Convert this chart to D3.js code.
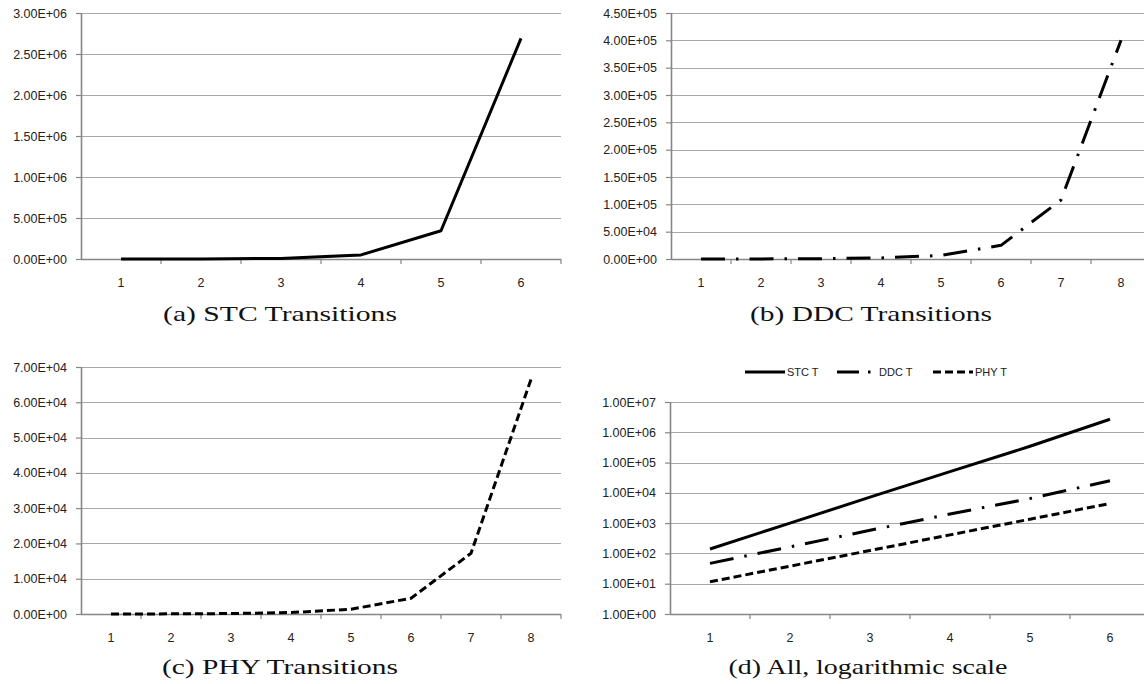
<!DOCTYPE html>
<html>
<head>
<meta charset="utf-8">
<script src="https://cdn.jsdelivr.net/npm/d3@7"></script>
<style>
    html, body { margin: 0; padding: 0; background: #fff; }
    svg { display: block; }
</style>
</head>
<body>
<script>
'use strict';

// values
var stcCategories = [1, 2, 3, 4, 5, 6];
var stcValues = [140, 1000, 7200, 50000, 345000, 2690000];

var ddcCategories = [1, 2, 3, 4, 5, 6, 7, 8];
var ddcValues = [47, 165, 580, 2000, 6500, 25000, 108000, 400000];

var phyCategories = [1, 2, 3, 4, 5, 6, 7, 8];
var phyValues = [11.6, 38, 125, 410, 1350, 4450, 17200, 66500];

var logCategories = [1, 2, 3, 4, 5, 6];
var logTicks = [1, 10, 100, 1000, 10000, 100000, 1000000, 10000000];

var legendNames = ['STC T', 'DDC T', 'PHY T'];

var dashes = {
    stc: null,
    ddc: '24,11,2.5,11',
    phy: '8,4'
};

var captions = [
    '(a) STC Transitions',
    '(b) DDC Transitions',
    '(c) PHY Transitions',
    '(d) All, logarithmic scale'
];

var SANS = '"Liberation Sans", Arial, sans-serif';
var SERIF = '"Liberation Serif", "Times New Roman", serif';

var svg = d3.select('body').append('svg')
    .attr('width', 1144)
    .attr('height', 684);

svg.append('rect')
    .attr('width', 1144)
    .attr('height', 684)
    .style('fill', '#fff');

function sciFormat(v){
    var s = v.toExponential(2).toUpperCase();
    var parts = s.split('E');
    var exp = parseInt(parts[1], 10);
    var sign = exp < 0 ? '-' : '+';
    exp = Math.abs(exp);
    return parts[0] + 'E' + sign + (exp < 10 ? '0' + exp : exp);
}

function drawPanel(cfg){
    var g = svg.append('g');

    var x = d3.scaleBand()
        .domain(cfg.categories)
        .range([cfg.left, cfg.right]);

    var y = cfg.log
        ? d3.scaleLog().domain(cfg.yDomain).range([cfg.bottom, cfg.top])
        : d3.scaleLinear().domain(cfg.yDomain).range([cfg.bottom, cfg.top]);

    // gridlines
    g.selectAll('.grid')
        .data(cfg.ticks.filter(function(t){ return t !== cfg.yDomain[0]; }))
        .enter().append('line')
        .attr('x1', cfg.left)
        .attr('x2', cfg.right)
        .attr('y1', function(d){ return Math.round(y(d)) + 0.5; })
        .attr('y2', function(d){ return Math.round(y(d)) + 0.5; })
        .style('stroke', '#a8a8a8')
        .style('stroke-width', 1.2);

    var yAxis = d3.axisLeft(y)
        .tickValues(cfg.ticks)
        .tickFormat(sciFormat)
        .tickSize(5)
        .tickPadding(9);

    var ya = g.append('g')
        .attr('transform', 'translate(' + cfg.left + ',0)')
        .call(yAxis);

    // x axis, ticks sit on the band edges
    var edges = cfg.categories.map(function(c){ return x(c); }).concat([cfg.right]);

    var xAxis = d3.axisBottom(x)
        .tickSize(0)
        .tickPadding(19);

    var xa = g.append('g')
        .attr('transform', 'translate(0,' + cfg.bottom + ')')
        .call(xAxis);

    xa.selectAll('.edge')
        .data(edges.slice(1))
        .enter().append('line')
        .attr('x1', function(d){ return d; })
        .attr('x2', function(d){ return d; })
        .attr('y1', 0)
        .attr('y2', 5)
        .style('stroke', '#868686')
        .style('stroke-width', 1.2);

    [ya, xa].forEach(function(a){
        a.select('.domain').remove();
        a.selectAll('.tick line').style('stroke', '#868686').style('stroke-width', 1.2);
        a.selectAll('.tick text')
            .style('font-family', SANS)
            .style('font-size', '12.5px')
            .style('fill', '#222');
    });

    // axis lines drawn over the grid
    g.append('line')
        .attr('x1', cfg.left).attr('x2', cfg.right)
        .attr('y1', cfg.bottom + 0.5).attr('y2', cfg.bottom + 0.5)
        .style('stroke', '#868686')
        .style('stroke-width', 1.6);

    g.append('line')
        .attr('x1', cfg.left + 0.5).attr('x2', cfg.left + 0.5)
        .attr('y1', cfg.top).attr('y2', cfg.bottom)
        .style('stroke', '#868686')
        .style('stroke-width', 1.6);

    var line = d3.line()
        .x(function(d){ return x(d[0]) + x.bandwidth() / 2; })
        .y(function(d){ return y(d[1]); });

    cfg.series.forEach(function(s){
        g.append('path')
            .datum(s.categories.map(function(c, i){ return [c, s.values[i]]; }))
            .attr('d', line)
            .style('fill', 'none')
            .style('stroke', '#000')
            .style('stroke-width', 3)
            .style('stroke-linejoin', 'round')
            .style('stroke-dasharray', s.dash);
    });

    g.append('text')
        .attr('x', cfg.captionX)
        .attr('y', cfg.captionY)
        .attr('text-anchor', 'middle')
        .attr('textLength', cfg.captionWidth)
        .attr('lengthAdjust', 'spacingAndGlyphs')
        .style('font-family', SERIF)
        .style('font-size', '22px')
        .style('fill', '#111')
        .text(cfg.caption);
}

function linTicks(max, step){
    return d3.range(0, max + step / 2, step);
}

drawPanel({
    categories: stcCategories,
    left: 81, right: 561, top: 13, bottom: 259,
    yDomain: [0, 3000000],
    ticks: linTicks(3000000, 500000),
    series: [{ categories: stcCategories, values: stcValues, dash: dashes.stc }],
    caption: captions[0], captionX: 280, captionY: 321, captionWidth: 234
});

drawPanel({
    categories: ddcCategories,
    left: 671, right: 1151, top: 13, bottom: 259,
    yDomain: [0, 450000],
    ticks: linTicks(450000, 50000),
    series: [{ categories: ddcCategories, values: ddcValues, dash: dashes.ddc }],
    caption: captions[1], captionX: 871, captionY: 321, captionWidth: 242
});

drawPanel({
    categories: phyCategories,
    left: 81, right: 561, top: 367, bottom: 614,
    yDomain: [0, 70000],
    ticks: linTicks(70000, 10000),
    series: [{ categories: phyCategories, values: phyValues, dash: dashes.phy }],
    caption: captions[2], captionX: 280, captionY: 674, captionWidth: 236
});

drawPanel({
    categories: logCategories,
    log: true,
    left: 670, right: 1150, top: 402, bottom: 614,
    yDomain: [1, 10000000],
    ticks: logTicks,
    series: [
        { categories: logCategories, values: stcValues.slice(0, 6), dash: dashes.stc },
        { categories: logCategories, values: ddcValues.slice(0, 6), dash: dashes.ddc },
        { categories: logCategories, values: phyValues.slice(0, 6), dash: dashes.phy }
    ],
    caption: captions[3], captionX: 868, captionY: 674, captionWidth: 279
});

// legend for the log panel
var legendItems = [
    { name: legendNames[0], dash: dashes.stc, x: 745 },
    { name: legendNames[1], dash: '22,9,2.5,9', x: 837 },
    { name: legendNames[2], dash: '8,4', x: 933 }
];

var legend = svg.append('g').attr('transform', 'translate(0,372)');

legend.selectAll('line')
    .data(legendItems)
    .enter().append('line')
    .attr('x1', function(d){ return d.x; })
    .attr('x2', function(d){ return d.x + 40; })
    .attr('y1', 0).attr('y2', 0)
    .style('stroke', '#000')
    .style('stroke-width', 3)
    .style('stroke-dasharray', function(d){ return d.dash; });

legend.selectAll('text')
    .data(legendItems)
    .enter().append('text')
    .attr('x', function(d){ return d.x + 42; })
    .attr('y', 4)
    .style('font-family', SANS)
    .style('font-size', '11px')
    .style('fill', '#222')
    .text(function(d){ return d.name; });
</script>
</body>
</html>
